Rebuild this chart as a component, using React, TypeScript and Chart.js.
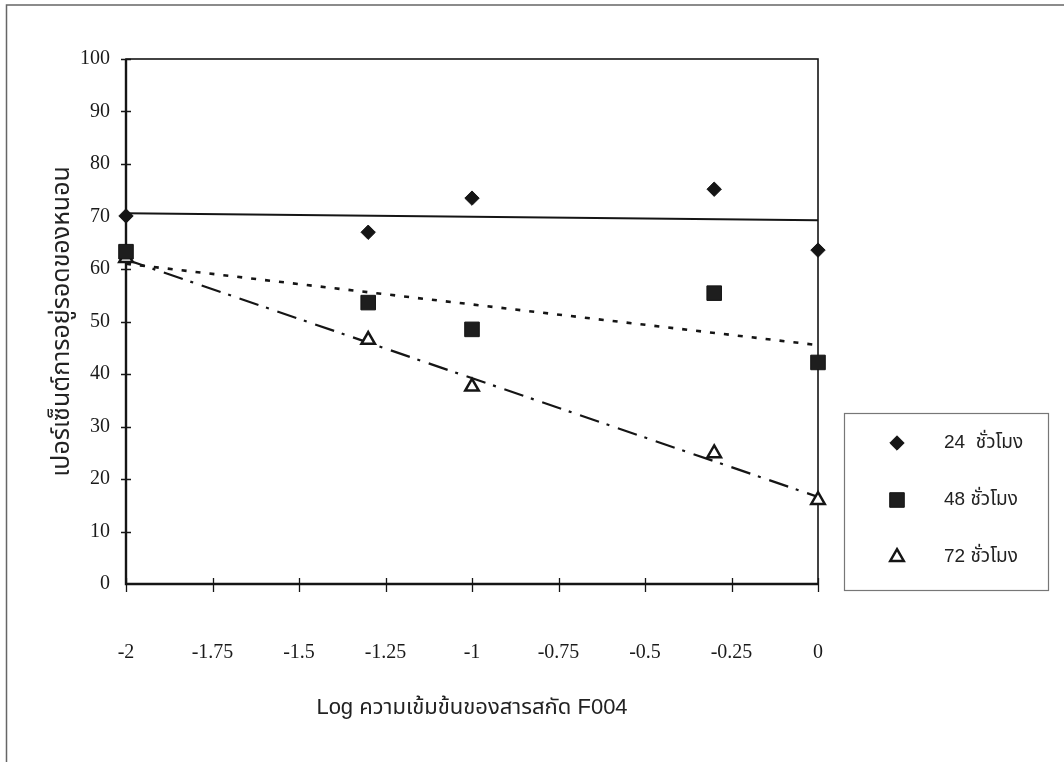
import React, { useEffect, useRef } from 'react';
import { Chart, registerables } from 'chart.js';
import { drawPoint } from 'chart.js/helpers';

Chart.register(...registerables);

// ---- data ----
const logConc = [-2, -1.3, -1, -0.3, 0];
const hours24 = [70.1, 67.0, 73.5, 75.2, 63.6];
const hours48 = [63.3, 53.6, 48.5, 55.4, 42.2];
const hours72 = [62.1, 46.5, 37.6, 24.9, 16.0];

const trendX = [-2, 0];
const trend24 = [70.6, 69.3];
const trend48 = [61.0, 45.5];
const trend72 = [61.8, 16.6];

const xTicks = [-2, -1.75, -1.5, -1.25, -1, -0.75, -0.5, -0.25, 0];
const xTickLabels = ['-2', '-1.75', '-1.5', '-1.25', '-1', '-0.75', '-0.5', '-0.25', '0'];
const yTicks = [0, 10, 20, 30, 40, 50, 60, 70, 80, 90, 100];
const yTickLabels = ['0', '10', '20', '30', '40', '50', '60', '70', '80', '90', '100'];

const seriesLabels = ['24  ชั่วโมง', '48 ชั่วโมง', '72 ชั่วโมง'];
const xTitle = 'Log ความเข้มข้นของสารสกัด F004';
const yTitle = 'เปอร์เซ็นต์การอยู่รอดของหนอน';

const INK = '#151515';
const SERIF = '"Liberation Serif", "Times New Roman", serif';
const SANS = '"Liberation Sans", Arial, "Noto Sans Thai", "Noto Sans", sans-serif';

const toPoints = (xs: number[], ys: number[]) => xs.map((x, i) => ({ x, y: ys[i] }));

const markerStyles = [
  { pointStyle: 'rectRot', radius: 7.2, fill: INK, borderWidth: 1 },
  { pointStyle: 'rect', radius: 10.3, fill: '#1e1e1e', borderWidth: 1 },
  { pointStyle: 'triangle', radius: 7.8, fill: '#ffffff', borderWidth: 2.5 },
];

const decorPlugin = {
  id: 'decor',
  beforeDraw(chart: any) {
    const { ctx, width, height } = chart;
    ctx.save();
    ctx.fillStyle = '#ffffff';
    ctx.fillRect(0, 0, width, height);
    // page frame (left and top)
    ctx.strokeStyle = '#666';
    ctx.lineWidth = 1.5;
    ctx.beginPath();
    ctx.moveTo(6.5, height);
    ctx.lineTo(6.5, 5);
    ctx.lineTo(width, 5);
    ctx.stroke();
    ctx.restore();
  },
  beforeDatasetsDraw(chart: any) {
    const { ctx, chartArea: a, scales } = chart;
    ctx.save();
    ctx.strokeStyle = INK;
    // plot box
    ctx.lineWidth = 1.6;
    ctx.strokeRect(a.left, a.top, a.right - a.left, a.bottom - a.top);
    // thicker axes
    ctx.lineWidth = 2.4;
    ctx.beginPath();
    ctx.moveTo(a.left, a.top);
    ctx.lineTo(a.left, a.bottom);
    ctx.lineTo(a.right, a.bottom);
    ctx.stroke();
    // tick marks crossing axes
    ctx.lineWidth = 1.3;
    ctx.beginPath();
    xTicks.forEach((v) => {
      const px = Math.round(scales.x.getPixelForValue(v)) + 0.5;
      ctx.moveTo(px, a.bottom - 6);
      ctx.lineTo(px, a.bottom + 8);
    });
    yTicks.forEach((v) => {
      if (v === 0) return;
      const py = Math.round(scales.y.getPixelForValue(v)) + 0.5;
      ctx.moveTo(a.left - 5, py);
      ctx.lineTo(a.left + 5, py);
    });
    ctx.stroke();
    ctx.restore();
  },
  afterDraw(chart: any) {
    const { ctx } = chart;
    ctx.save();
    // legend box
    const bx = 844, by = 413, bw = 204, bh = 177;
    ctx.strokeStyle = '#777';
    ctx.lineWidth = 1.2;
    ctx.strokeRect(bx + 0.5, by + 0.5, bw, bh);
    const rows = [443, 500, 557];
    rows.forEach((ry, i) => {
      const m = markerStyles[i];
      ctx.fillStyle = m.fill;
      ctx.strokeStyle = INK;
      ctx.lineWidth = m.borderWidth;
      drawPoint(ctx, { pointStyle: m.pointStyle, radius: m.radius, rotation: 0, borderWidth: m.borderWidth } as any, 897, ry);
      ctx.fillStyle = '#222';
      ctx.font = `19px ${SANS}`;
      ctx.textBaseline = 'middle';
      ctx.textAlign = 'left';
      ctx.fillText(seriesLabels[i], 944, ry);
    });
    ctx.restore();
  },
};

export default function App() {
  const canvasRef = useRef<HTMLCanvasElement | null>(null);

  useEffect(() => {
    if (!canvasRef.current) return;
    const seriesData = [hours24, hours48, hours72];
    const pointSets = seriesData.map((ys, i) => ({
      label: seriesLabels[i],
      data: toPoints(logConc, ys),
      showLine: false,
      pointStyle: markerStyles[i].pointStyle,
      pointRadius: markerStyles[i].radius,
      pointBackgroundColor: markerStyles[i].fill,
      pointBorderColor: INK,
      pointBorderWidth: markerStyles[i].borderWidth,
      clip: false as any,
    }));
    const trendDefs = [
      { ys: trend24, dash: [] as number[], width: 2 },
      { ys: trend48, dash: [5, 9], width: 2.6 },
      { ys: trend72, dash: [20, 8, 3, 9], width: 2.2 },
    ];
    const trendSets = trendDefs.map((t, i) => ({
      label: 'trend ' + seriesLabels[i],
      data: toPoints(trendX, t.ys),
      showLine: true,
      borderColor: INK,
      borderWidth: t.width,
      borderDash: t.dash,
      pointRadius: 0,
      fill: false,
    }));

    const chart = new Chart(canvasRef.current, {
      type: 'scatter',
      data: { datasets: [...pointSets, ...trendSets] as any },
      options: {
        responsive: false,
        animation: false,
        events: [],
        layout: { padding: { left: 0, top: 59, right: 246, bottom: 0 } },
        plugins: { legend: { display: false }, tooltip: { enabled: false } },
        scales: {
          x: {
            type: 'linear',
            min: -2,
            max: 0,
            grid: { display: false, drawTicks: false },
            border: { display: false },
            afterBuildTicks: (s: any) => {
              s.ticks = xTicks.map((v) => ({ value: v }));
            },
            afterFit: (s: any) => {
              s.height = 178;
            },
            ticks: {
              autoSkip: false,
              maxRotation: 0,
              padding: 57,
              color: '#1a1a1a',
              font: { family: SERIF, size: 20 },
              callback: (v: any) => xTickLabels[xTicks.indexOf(Number(v))] ?? String(v),
            },
            title: {
              display: true,
              text: xTitle,
              color: '#222',
              font: { family: SANS, size: 22 },
              padding: { top: 0, bottom: 41 },
            },
          },
          y: {
            type: 'linear',
            min: 0,
            max: 100,
            grid: { display: false, drawTicks: false },
            border: { display: false },
            afterBuildTicks: (s: any) => {
              s.ticks = yTicks.map((v) => ({ value: v }));
            },
            afterFit: (s: any) => {
              s.width = 126;
            },
            ticks: {
              padding: 16,
              color: '#1a1a1a',
              font: { family: SERIF, size: 20 },
              callback: (v: any) => yTickLabels[yTicks.indexOf(Number(v))] ?? String(v),
            },
            title: {
              display: true,
              text: yTitle,
              color: '#222',
              font: { family: SANS, size: 25 },
              padding: { top: 47, bottom: 0 },
            },
          },
        },
      },
      plugins: [decorPlugin],
    });
    return () => chart.destroy();
  }, []);

  return (
    <div style={{ position: 'fixed', left: 0, top: 0, width: 1064, height: 762, background: '#fff' }}>
      <canvas ref={canvasRef} width={1064} height={762} style={{ display: 'block' }} />
    </div>
  );
}
